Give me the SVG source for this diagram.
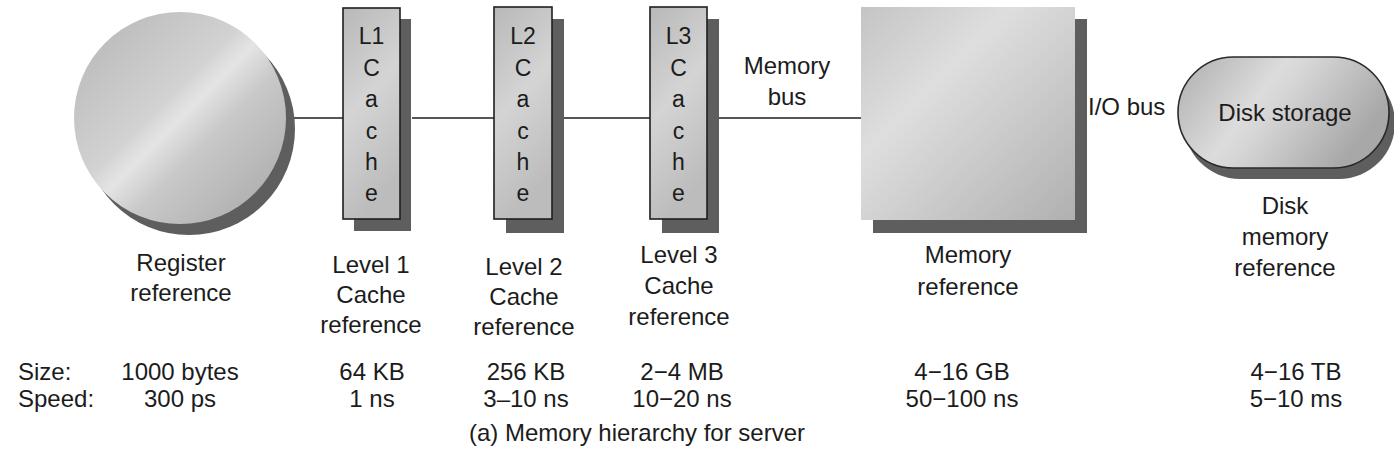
<svg xmlns="http://www.w3.org/2000/svg" width="1394" height="466" viewBox="0 0 1394 466">
  <defs>
    <!-- brushed-metal fills -->
    <linearGradient id="metalDiag" x1="0" y1="0" x2="1" y2="1">
      <stop offset="0" stop-color="#b4b4b4"/>
      <stop offset="0.42" stop-color="#d2d2d2"/>
      <stop offset="0.5" stop-color="#e4e4e4"/>
      <stop offset="0.62" stop-color="#c8c8c8"/>
      <stop offset="1" stop-color="#a6a6a6"/>
    </linearGradient>
    <linearGradient id="metalBox" x1="0" y1="0" x2="1" y2="1">
      <stop offset="0" stop-color="#c4c4c4"/>
      <stop offset="0.35" stop-color="#dedede"/>
      <stop offset="0.55" stop-color="#d0d0d0"/>
      <stop offset="1" stop-color="#b0b0b0"/>
    </linearGradient>
    <linearGradient id="metalTall" x1="0" y1="0" x2="0.3" y2="1">
      <stop offset="0" stop-color="#b8b8b8"/>
      <stop offset="0.5" stop-color="#d4d4d4"/>
      <stop offset="1" stop-color="#bcbcbc"/>
    </linearGradient>
    <linearGradient id="metalPill" x1="0" y1="0" x2="1" y2="0.4">
      <stop offset="0" stop-color="#adadad"/>
      <stop offset="0.45" stop-color="#dcdcdc"/>
      <stop offset="0.55" stop-color="#d6d6d6"/>
      <stop offset="1" stop-color="#a8a8a8"/>
    </linearGradient>
  </defs>
  <style>
    text { font-family: "Liberation Sans", Arial, sans-serif; fill: #1c1c1c; }
    .lbl { font-size: 24px; text-anchor: middle; }
    .row { font-size: 24px; }
    .mid { text-anchor: middle; }
    .cl { font-size: 23px; text-anchor: middle; }
    .shadow { fill: #5e5e5e; }
    .cache { fill: url(#metalTall); stroke: #1e1e1e; stroke-width: 1.6; }
    .wire { stroke: #1e1e1e; stroke-width: 1.6; fill: none; }
  </style>

  <!-- bus wires -->
  <g id="connectors">
    <line class="wire" x1="284" y1="118" x2="343" y2="118"/>
    <line class="wire" x1="412" y1="118" x2="494" y2="118"/>
    <line class="wire" x1="564" y1="118" x2="650" y2="118"/>
    <line class="wire" x1="719" y1="118" x2="861" y2="118"/>
  </g>

  <g id="register">
    <circle class="shadow" cx="189" cy="129" r="106"/>
    <circle cx="180" cy="118" r="106" fill="url(#metalDiag)"/>
    <text class="lbl" x="181" y="271">Register</text>
    <text class="lbl" x="181" y="301">reference</text>
  </g>

  <g id="l1">
    <rect class="shadow" x="354" y="19" width="57" height="212"/>
    <rect class="cache" x="343" y="8" width="57" height="211"/>
    <text class="cl" x="371.5" y="44">L1</text>
    <text class="cl" x="371.5" y="76">C</text>
    <text class="cl" x="371.5" y="107">a</text>
    <text class="cl" x="371.5" y="139">c</text>
    <text class="cl" x="371.5" y="170">h</text>
    <text class="cl" x="371.5" y="201">e</text>
    <text class="lbl" x="371" y="273">Level 1</text>
    <text class="lbl" x="371" y="303">Cache</text>
    <text class="lbl" x="371" y="333">reference</text>
  </g>

  <g id="l2">
    <rect class="shadow" x="506" y="19" width="58" height="214"/>
    <rect class="cache" x="494" y="7" width="58" height="212"/>
    <text class="cl" x="523" y="44">L2</text>
    <text class="cl" x="523" y="76">C</text>
    <text class="cl" x="523" y="107">a</text>
    <text class="cl" x="523" y="139">c</text>
    <text class="cl" x="523" y="170">h</text>
    <text class="cl" x="523" y="201">e</text>
    <text class="lbl" x="524" y="275">Level 2</text>
    <text class="lbl" x="524" y="305">Cache</text>
    <text class="lbl" x="524" y="335">reference</text>
  </g>

  <g id="l3">
    <rect class="shadow" x="662" y="19" width="57" height="214"/>
    <rect class="cache" x="650" y="7" width="57" height="212"/>
    <text class="cl" x="678.5" y="44">L3</text>
    <text class="cl" x="678.5" y="76">C</text>
    <text class="cl" x="678.5" y="107">a</text>
    <text class="cl" x="678.5" y="139">c</text>
    <text class="cl" x="678.5" y="170">h</text>
    <text class="cl" x="678.5" y="201">e</text>
    <text class="lbl" x="679" y="263">Level 3</text>
    <text class="lbl" x="679" y="294">Cache</text>
    <text class="lbl" x="679" y="325">reference</text>
  </g>

  <g id="membus">
    <text class="lbl" x="787" y="74">Memory</text>
    <text class="lbl" x="787" y="105">bus</text>
  </g>

  <g id="memory">
    <rect class="shadow" x="873" y="19" width="214" height="214"/>
    <rect x="861" y="7" width="214" height="213" fill="url(#metalBox)"/>
    <text class="lbl" x="968" y="263">Memory</text>
    <text class="lbl" x="968" y="295">reference</text>
  </g>

  <g id="iobus">
    <text class="row" x="1088" y="115">I/O bus</text>
  </g>

  <g id="disk">
    <rect class="shadow" x="1184" y="67" width="211" height="112" rx="56" ry="56"/>
    <rect x="1178" y="57" width="211" height="111" rx="55.5" ry="55.5" fill="url(#metalPill)" stroke="#2a2a2a" stroke-width="1.6"/>
    <text class="lbl" x="1285" y="121">Disk storage</text>
    <text class="lbl" x="1285" y="214">Disk</text>
    <text class="lbl" x="1285" y="245">memory</text>
    <text class="lbl" x="1285" y="276">reference</text>
  </g>

  <!-- size / speed table -->
  <g id="table">
    <text class="row" x="18" y="380">Size:</text>
    <text class="row" x="18" y="407">Speed:</text>
    <text class="row mid" x="180" y="380">1000 bytes</text>
    <text class="row mid" x="180" y="407">300 ps</text>
    <text class="row mid" x="372" y="380">64 KB</text>
    <text class="row mid" x="372" y="407">1 ns</text>
    <text class="row mid" x="526" y="380">256 KB</text>
    <text class="row mid" x="526" y="407">3–10 ns</text>
    <text class="row mid" x="682" y="380">2−4 MB</text>
    <text class="row mid" x="682" y="407">10−20 ns</text>
    <text class="row mid" x="962" y="380">4−16 GB</text>
    <text class="row mid" x="962" y="407">50−100 ns</text>
    <text class="row mid" x="1296" y="380">4−16 TB</text>
    <text class="row mid" x="1296" y="407">5−10 ms</text>
  </g>

  <text id="caption" class="row mid" x="637" y="441">(a) Memory hierarchy for server</text>
</svg>
